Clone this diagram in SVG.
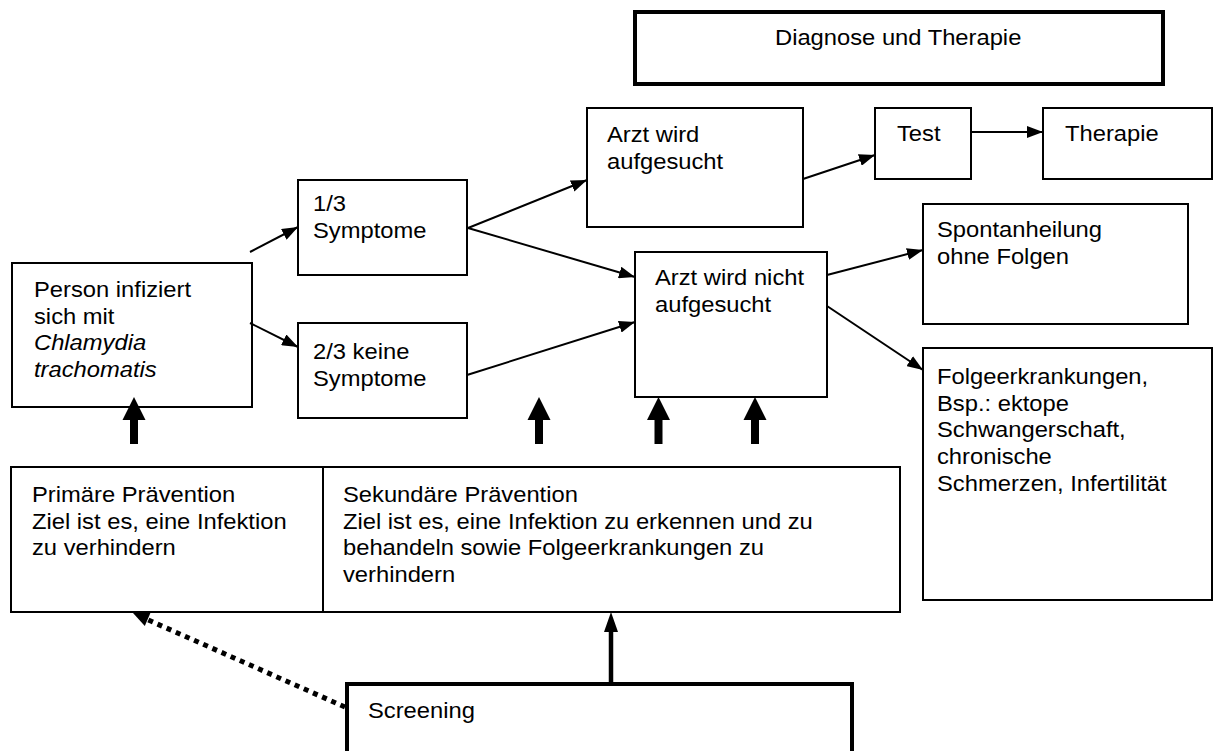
<svg xmlns="http://www.w3.org/2000/svg" width="1217" height="751" viewBox="0 0 1217 751">
<defs>
<style>
.box{fill:#fff;stroke:#000;stroke-width:2}
.bold{fill:#fff;stroke:#000;stroke-width:4}
.t{font-family:"Liberation Sans",Arial,sans-serif;font-size:22px;fill:#000}
.con{stroke:#000;stroke-width:2;fill:none;marker-end:url(#ah)}
</style>
<marker id="ah" markerUnits="userSpaceOnUse" markerWidth="16" markerHeight="12" refX="16" refY="6" orient="auto">
<path d="M0,0 L16,6 L0,12 z" fill="#000"/>
</marker>
</defs>
<rect width="1217" height="751" fill="#fff"/>

<g id="diagnose">
<rect class="bold" x="635" y="12" width="528" height="72"/>
<text class="t" transform="translate(775,45) scale(1.08,1)">Diagnose und Therapie</text>
</g>

<g id="person">
<rect class="box" x="12" y="263" width="240" height="144"/>
<text class="t" transform="translate(34,297) scale(1.08,1)"><tspan x="0" y="0">Person infiziert</tspan><tspan x="0" y="26.7">sich mit</tspan><tspan x="0" y="53.4" font-style="italic">Chlamydia</tspan><tspan x="0" y="80.1" font-style="italic">trachomatis</tspan></text>
</g>

<g id="symptome">
<rect class="box" x="298" y="180" width="169" height="95"/>
<text class="t" transform="translate(313,211) scale(1.08,1)"><tspan x="0" y="0">1/3</tspan><tspan x="0" y="26.7">Symptome</tspan></text>
</g>

<g id="keine">
<rect class="box" x="298" y="323" width="169" height="95"/>
<text class="t" transform="translate(313,359) scale(1.08,1)"><tspan x="0" y="0">2/3 keine</tspan><tspan x="0" y="26.7">Symptome</tspan></text>
</g>

<g id="arzt">
<rect class="box" x="587" y="108" width="216" height="119"/>
<text class="t" transform="translate(607,142) scale(1.08,1)"><tspan x="0" y="0">Arzt wird</tspan><tspan x="0" y="26.7">aufgesucht</tspan></text>
</g>

<g id="arztnicht">
<rect class="box" x="635" y="252" width="192" height="145"/>
<text class="t" transform="translate(655,285) scale(1.08,1)"><tspan x="0" y="0">Arzt wird nicht</tspan><tspan x="0" y="26.7">aufgesucht</tspan></text>
</g>

<g id="test">
<rect class="box" x="875" y="108" width="96" height="71"/>
<text class="t" transform="translate(897,141) scale(1.08,1)">Test</text>
</g>

<g id="therapie">
<rect class="box" x="1043" y="108" width="169" height="71"/>
<text class="t" transform="translate(1065,141) scale(1.08,1)">Therapie</text>
</g>

<g id="spontan">
<rect class="box" x="923" y="204" width="265" height="120"/>
<text class="t" transform="translate(937,237) scale(1.08,1)"><tspan x="0" y="0">Spontanheilung</tspan><tspan x="0" y="26.7">ohne Folgen</tspan></text>
</g>

<g id="folge">
<rect class="box" x="923" y="348" width="289" height="252"/>
<text class="t" transform="translate(937,384) scale(1.08,1)"><tspan x="0" y="0">Folgeerkrankungen,</tspan><tspan x="0" y="26.7">Bsp.: ektope</tspan><tspan x="0" y="53.4">Schwangerschaft,</tspan><tspan x="0" y="80.1">chronische</tspan><tspan x="0" y="106.8">Schmerzen, Infertilität</tspan></text>
</g>

<g id="praevention">
<rect class="box" x="11" y="467" width="889" height="145"/>
<line x1="323" y1="467" x2="323" y2="612" stroke="#000" stroke-width="2"/>
<text class="t" transform="translate(32,502) scale(1.08,1)"><tspan x="0" y="0">Primäre Prävention</tspan><tspan x="0" y="26.7">Ziel ist es, eine Infektion</tspan><tspan x="0" y="53.4">zu verhindern</tspan></text>
<text class="t" transform="translate(343,502) scale(1.08,1)"><tspan x="0" y="0">Sekundäre Prävention</tspan><tspan x="0" y="26.7">Ziel ist es, eine Infektion zu erkennen und zu</tspan><tspan x="0" y="53.4">behandeln sowie Folgeerkrankungen zu</tspan><tspan x="0" y="80.1">verhindern</tspan></text>
</g>

<g id="screening">
<rect class="bold" x="347" y="684" width="505" height="90"/>
<text class="t" transform="translate(368,718) scale(1.08,1)">Screening</text>
</g>

<g id="connectors">
<line class="con" x1="250" y1="252" x2="298" y2="227"/>
<line class="con" x1="250" y1="323" x2="298" y2="347"/>
<line class="con" x1="468" y1="228" x2="587" y2="180"/>
<line class="con" x1="468" y1="228" x2="635" y2="277"/>
<line class="con" x1="467" y1="375" x2="635" y2="322"/>
<line class="con" x1="803" y1="179" x2="875" y2="155"/>
<line class="con" x1="971" y1="132" x2="1043" y2="132"/>
<line class="con" x1="827" y1="275" x2="923" y2="250"/>
<line class="con" x1="827" y1="306" x2="923" y2="370"/>
<g fill="#000">
<rect x="130" y="418" width="8" height="26"/><polygon points="122.5,420 134,397 145.5,420"/>
<rect x="535" y="418" width="8" height="26"/><polygon points="527.5,420 539,397 550.5,420"/>
<rect x="654.5" y="418" width="8" height="26"/><polygon points="647,420 658.5,397 670,420"/>
<rect x="751" y="418" width="8" height="26"/><polygon points="743.5,420 755,397 766.5,420"/>
</g>
<line x1="611" y1="684" x2="611" y2="628" stroke="#000" stroke-width="4.5"/>
<polygon points="604,632 611,612 618,632" fill="#000"/>
<line x1="345" y1="707" x2="146" y2="619" stroke="#000" stroke-width="5" stroke-dasharray="5 5"/>
<polygon points="133,613 150.4,613.1 144.8,625.9" fill="#000"/>
</g>
</svg>
